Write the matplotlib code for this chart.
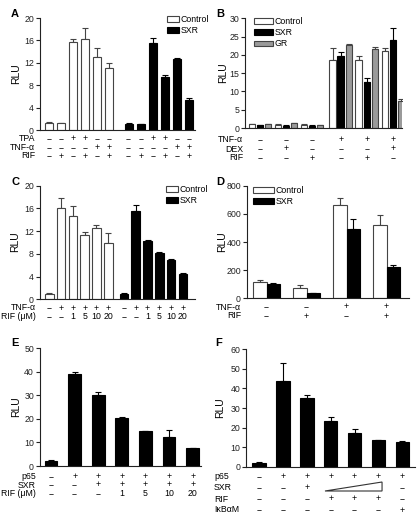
import numpy as np
import matplotlib
matplotlib.use("Agg")
import matplotlib.pyplot as plt
from matplotlib.patches import Patch, Polygon
from matplotlib.transforms import blended_transform_factory

plt.rcParams["font.family"] = ["Liberation Sans", "DejaVu Sans"]

M = "−"  # minus sign used in the treatment rows

# ---- data ----
A_control = [1.3, 1.2, 15.8, 16.3, 13.0, 11.0]
A_control_err = [0.1, 0.1, 0.5, 2.0, 1.6, 0.9]
A_sxr = [1.1, 1.0, 15.5, 9.4, 12.6, 5.4]
A_sxr_err = [0.1, 0.1, 0.9, 0.5, 0.3, 0.3]
A_rows = [("TPA", [M, M, "+", "+", M, M] * 2),
          ("TNF-α", [M, M, M, M, "+", "+"] * 2),
          ("RIF", [M, "+", M, "+", M, "+"] * 2)]

B_control = [1.0, 0.9, 0.9, 18.7, 18.5, 21.0]
B_control_err = [0.1, 0.1, 0.1, 3.2, 1.2, 0.8]
B_sxr = [0.7, 0.6, 0.6, 19.8, 12.5, 24.0]
B_sxr_err = [0.1, 0.1, 0.1, 1.0, 1.3, 3.3]
B_gr = [1.1, 1.3, 0.8, 22.8, 21.5, 7.3]
B_gr_err = [0.1, 0.1, 0.1, 0.3, 0.7, 0.6]
B_rows = [("TNF-α", [M, M, M, "+", "+", "+"]),
          ("DEX", [M, "+", M, M, M, "+"]),
          ("RIF", [M, M, "+", M, "+", M])]

C_control = [1.0, 16.0, 14.6, 11.3, 12.6, 10.0]
C_control_err = [0.1, 1.9, 1.9, 0.6, 0.5, 1.6]
C_sxr = [1.0, 15.6, 10.3, 8.2, 7.0, 4.5]
C_sxr_err = [0.1, 1.0, 0.2, 0.05, 0.1, 0.05]
C_rows = [("TNF-α", [M, "+", "+", "+", "+", "+"] * 2),
          ("RIF (μM)", [M, M, "1", "5", "10", "20"] * 2)]

D_control = [115, 75, 660, 520]
D_control_err = [15, 20, 50, 75]
D_sxr = [100, 35, 490, 225]
D_sxr_err = [8, 3, 70, 12]
D_rows = [("TNF-α", [M, M, "+", "+"]),
          ("RIF", [M, "+", M, "+"])]

E_vals = [2.2, 39.0, 30.2, 20.3, 14.9, 12.4, 7.6]
E_err = [0.3, 0.8, 1.2, 0.4, 0.1, 2.8, 0.2]
E_rows = [("p65", [M, "+", "+", "+", "+", "+", "+"]),
          ("SXR", [M, M, "+", "+", "+", "+", "+"]),
          ("RIF (μM)", [M, M, M, "1", "5", "10", "20"])]

F_vals = [2.0, 43.8, 35.2, 23.5, 17.0, 13.5, 12.8]
F_err = [0.2, 9.2, 1.2, 1.8, 2.3, 0.3, 0.4]
F_rows = [("p65", [M, "+", "+", "+", "+", "+", "+"]),
          ("SXR", [M, M, "+", "", "", "", M]),
          ("RIF", [M, M, M, "+", "+", "+", M]),
          ("IκBαM", [M, M, M, M, M, M, "+"])]

W, H = 417, 520
EDGE = "#444444"
FS = 6.3

fig = plt.figure(figsize=(W / 100, H / 100), dpi=100)


def make_ax(l, r, t, b):
    ax = fig.add_axes([l / W, 1 - b / H, (r - l) / W, (b - t) / H])
    for s in ("top", "right"):
        ax.spines[s].set_visible(False)
    for s in ("left", "bottom"):
        ax.spines[s].set_color("#222222")
        ax.spines[s].set_linewidth(0.8)
    ax.tick_params(axis="y", length=3, width=0.8, pad=1, labelsize=FS, colors="#222222")
    ax.tick_params(axis="x", length=0, labelbottom=False)
    return ax


def bars(ax, x, vals, errs, face, width):
    edge = EDGE if face != "black" else "black"
    ax.errorbar(x, vals, yerr=[np.zeros(len(errs)), errs], fmt="none",
                ecolor=edge, elinewidth=0.8, capsize=2.2, capthick=0.8, zorder=1)
    ax.bar(x, vals, width, color=face, edgecolor=edge, linewidth=0.8, zorder=2)


def rows(ax, x, table, ys, name_x, ha="right"):
    trans = blended_transform_factory(ax.transData, fig.transFigure)
    for (name, signs), y in zip(table, ys):
        fig.text(name_x / W, 1 - y / H, name, ha=ha, va="center", fontsize=FS)
        for xi, s in zip(x, signs):
            ax.text(xi, 1 - y / H, s, transform=trans, ha="center", va="center",
                    fontsize=FS)


def letter(px, py, s):
    fig.text(px / W, 1 - py / H, s, fontsize=8, fontweight="bold", ha="left", va="center")


def ylabel(px, py):
    fig.text(px / W, 1 - py / H, "RLU", rotation=90, ha="center", va="center", fontsize=7.5)


def legend(ax, labels, faces, anchor, loc, hl=1.4):
    handles = [Patch(facecolor=f, edgecolor=EDGE if f != "black" else "black", linewidth=0.8)
               for f in faces]
    ax.legend(handles, labels, loc=loc, bbox_to_anchor=(anchor[0] / W, 1 - anchor[1] / H),
              bbox_transform=fig.transFigure, frameon=False, fontsize=FS,
              handlelength=hl, handleheight=0.55, handletextpad=0.15,
              labelspacing=0.25, borderaxespad=0, borderpad=0)


# ---- A ----
ax = make_ax(39.5, 195, 18, 130)
xc = np.arange(6)
xs = xc + 6.6
bars(ax, xc, A_control, A_control_err, "white", 0.68)
bars(ax, xs, A_sxr, A_sxr_err, "black", 0.68)
ax.set_xlim(-0.79, 12.1)
ax.set_ylim(0, 20)
ax.set_yticks([0, 4, 8, 12, 16, 20])
rows(ax, np.concatenate([xc, xs]), A_rows, [139, 147.5, 156], 35)
legend(ax, ["Control", "SXR"], ["white", "black"], (209, 15), "upper right")
letter(11, 14, "A")
ylabel(16, 74)

# ---- B ----
ax = make_ax(245, 402, 18.3, 128)
xg = np.array([0, 1, 2, 3.1, 4.1, 5.1])
step = 0.31
bars(ax, xg - step, B_control, B_control_err, "white", 0.25)
bars(ax, xg, B_sxr, B_sxr_err, "black", 0.25)
bars(ax, xg + step, B_gr, B_gr_err, "#9a9a9a", 0.25)
ax.set_xlim(-0.57, 5.45)
ax.set_ylim(0, 30)
ax.set_yticks([0, 5, 10, 15, 20, 25, 30])
rows(ax, xg, B_rows, [140, 149, 158], 243)
legend(ax, ["Control", "SXR", "GR"], ["white", "black", "#9a9a9a"], (254, 17), "upper left", hl=2.2)
letter(216, 14, "B")
ylabel(223, 73)

# ---- C ----
ax = make_ax(39.5, 195, 185.7, 299.3)
xc = np.arange(6)
xs = xc + 6.33
bars(ax, xc, C_control, C_control_err, "white", 0.73)
bars(ax, xs, C_sxr, C_sxr_err, "black", 0.73)
ax.set_xlim(-0.83, 12.35)
ax.set_ylim(0, 20)
ax.set_yticks([0, 4, 8, 12, 16, 20])
rows(ax, np.concatenate([xc, xs]), C_rows, [308, 316.5], 36)
legend(ax, ["Control", "SXR"], ["white", "black"], (208, 185), "upper right")
letter(11, 182, "C")
ylabel(15, 242)

# ---- D ----
ax = make_ax(246.5, 409, 185.7, 298.3)
xd = np.arange(4)
bars(ax, xd - 0.165, D_control, D_control_err, "white", 0.33)
bars(ax, xd + 0.165, D_sxr, D_sxr_err, "black", 0.33)
ax.set_xlim(-0.5, 3.56)
ax.set_ylim(0, 800)
ax.set_yticks([0, 200, 400, 600, 800])
rows(ax, xd, D_rows, [307, 316], 241)
legend(ax, ["Control", "SXR"], ["white", "black"], (253, 186), "upper left", hl=2.4)
letter(216, 182, "D")
ylabel(222, 242)

# ---- E ----
ax = make_ax(39.5, 200.7, 348.3, 466)
xe = np.arange(7)
bars(ax, xe, E_vals, E_err, "black", 0.54)
ax.set_xlim(-0.49, 6.34)
ax.set_ylim(0, 50)
ax.set_yticks([0, 10, 20, 30, 40, 50])
rows(ax, xe, E_rows, [476.5, 485, 494], 36)
letter(11, 343, "E")
ylabel(16, 407)

# ---- F ----
ax = make_ax(245.7, 415, 349.3, 466.7)
xf = np.arange(7)
bars(ax, xf, F_vals, F_err, "black", 0.56)
ax.set_xlim(-0.56, 6.53)
ax.set_ylim(0, 60)
ax.set_yticks([0, 10, 20, 30, 40, 50, 60])
rows(ax, xf, F_rows, [476.5, 487.5, 499, 510], 214, ha="left")
trans = blended_transform_factory(ax.transData, fig.transFigure)
wedge = Polygon([(2.76, 1 - 491 / H), (5.15, 1 - 482 / H), (5.15, 1 - 491 / H)],
                closed=True, fill=False, edgecolor="#333333", linewidth=0.8,
                transform=trans, clip_on=False)
ax.add_patch(wedge)
letter(215, 343, "F")
ylabel(220, 408)

fig.savefig("out.png", dpi=100)
